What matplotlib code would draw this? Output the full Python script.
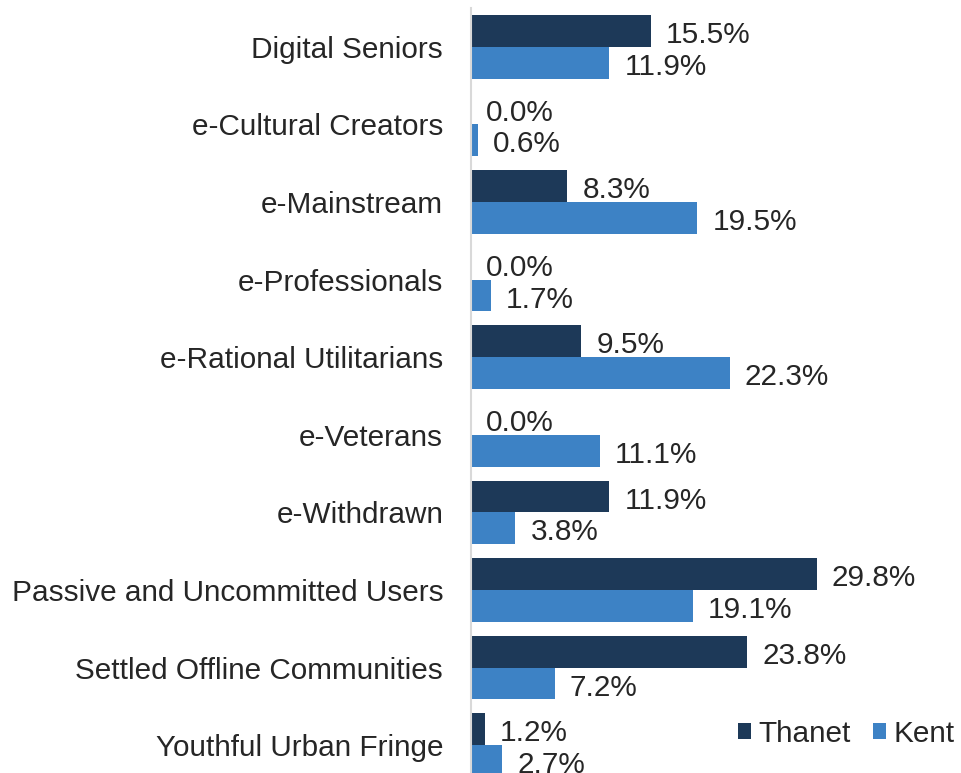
import matplotlib
matplotlib.use('Agg')
import matplotlib.pyplot as plt
import numpy as np

plt.rcParams['font.family'] = ['Liberation Sans', 'DejaVu Sans']

# 数据
categories = ['Digital Seniors', 'e-Cultural Creators', 'e-Mainstream', 'e-Professionals',
              'e-Rational Utilitarians', 'e-Veterans', 'e-Withdrawn',
              'Passive and Uncommitted Users', 'Settled Offline Communities',
              'Youthful Urban Fringe']
thanet = [15.5, 0.0, 8.3, 0.0, 9.5, 0.0, 11.9, 29.8, 23.8, 1.2]
kent = [11.9, 0.6, 19.5, 1.7, 22.3, 11.1, 3.8, 19.1, 7.2, 2.7]

c_thanet = '#1D3958'
c_kent = '#3D82C5'

fig = plt.figure(figsize=(9.61, 7.73), dpi=100)
# 轴区域（像素换算）
left = 471 / 961
right = 961 / 961
top = 1 - 8 / 773
bottom = 1 - 784 / 773
ax = fig.add_axes([left, bottom, right - left, top - bottom])

y = np.arange(len(categories))
h = 0.41
b1 = ax.barh(y - h / 2, thanet, height=h, color=c_thanet, label='Thanet')
b2 = ax.barh(y + h / 2, kent, height=h, color=c_kent, label='Kent')

fs = 21.4
for bars, vals in ((b1, thanet), (b2, kent)):
    for rect, v in zip(bars, vals):
        ax.annotate(f'{v:.1f}%', (v, rect.get_y() + rect.get_height() / 2),
                    xytext=(11, -3), textcoords='offset points',
                    ha='left', va='center', fontsize=fs, color='#262626')

ax.set_xlim(0, 490 / 11.6)
ax.set_ylim(len(categories) - 0.5, -0.5)
ax.set_yticks(y)
ax.set_yticklabels(categories, fontsize=fs, color='#262626')
ax.tick_params(axis='y', length=0, pad=20)
ax.set_xticks([])
for s in ('top', 'right', 'bottom'):
    ax.spines[s].set_visible(False)
ax.spines['left'].set_color('#D9D9D9')
ax.spines['left'].set_linewidth(1.5)

leg = ax.legend(loc='center right', bbox_to_anchor=(955 / 961, 1 - 734 / 773),
                bbox_transform=fig.transFigure, ncol=2, frameon=False,
                fontsize=fs, handlelength=0.45, handleheight=0.45,
                handletextpad=0.25, columnspacing=0.75, borderaxespad=0,
                borderpad=0)
for t in leg.get_texts():
    t.set_color('#262626')

fig.savefig('out.png', dpi=100)
